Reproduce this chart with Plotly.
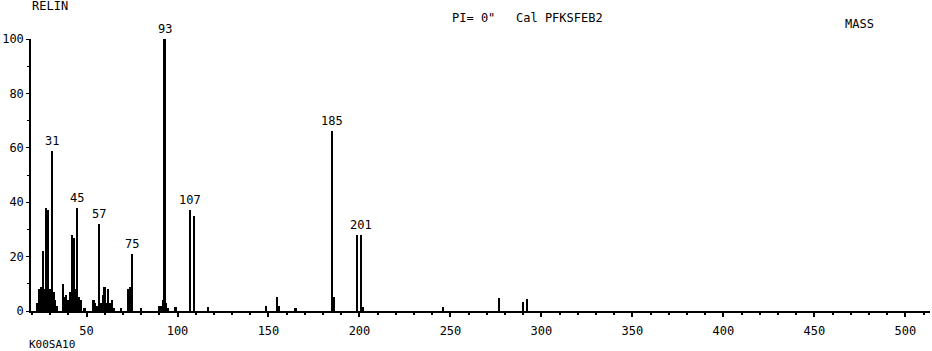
import plotly.graph_objects as go

# mass spectrum (m/z, relative intensity %)
masses = [23, 24, 25, 26, 27, 28, 29, 30, 31, 32, 33, 34, 37, 38, 39, 40, 41,
          42, 43, 44, 45, 46, 47, 49, 54, 55, 56, 57, 58, 59, 60, 61, 62, 63,
          64, 65, 69, 73, 74, 75, 80, 90, 91, 92, 93, 94, 95, 99, 107, 109,
          117, 149, 155, 156, 165, 186, 185, 199, 201, 202, 246, 277, 290, 292]
intens = [3, 8, 9, 22, 8, 38, 37, 8, 59, 7, 4, 2, 10, 5, 6, 4, 7,
          28, 27, 8, 38, 5, 4, 1, 4, 3, 2, 32, 3, 6, 9, 3, 8, 3,
          4, 1, 1, 8, 9, 21, 1, 2, 2, 4, 100, 3, 1, 1.5, 37, 35,
          1.5, 2, 5, 2, 1, 5, 66, 28, 28, 1.5, 1.5, 4.7, 3.3, 4.4]

labelled = [31, 45, 57, 75, 93, 107, 185, 201]

x_ticks = [50, 100, 150, 200, 250, 300, 350, 400, 450, 500]
y_ticks = [0, 20, 40, 60, 80, 100]

font = dict(family="DejaVu Sans Mono, Liberation Mono, monospace", size=12, color="black")

fig = go.Figure(go.Bar(
    x=masses, y=intens, width=0.9,
    marker=dict(color="black", line=dict(width=0)),
))

inten_of = dict(zip(masses, intens))
for m in labelled:
    fig.add_annotation(x=m, y=inten_of[m], text=str(m), showarrow=False,
                       yanchor="bottom", yshift=1, font=font)

# header / footer text of the printout
header = [
    (0.021, 1.12, "RELIN"),
    (0.4917, 1.077, "PI= 0\""),
    (0.588, 1.077, "Cal PFKSFEB2"),
    (0.922, 1.055, "MASS"),
]
for hx, hy, txt in header:
    fig.add_annotation(xref="paper", yref="paper", x=hx, y=hy, text=txt,
                       xanchor="center", yanchor="middle", showarrow=False, font=font)
fig.add_annotation(xref="paper", yref="paper", x=-0.004, xanchor="left", y=-0.092,
                   yanchor="top", text="K00SA10", showarrow=False,
                   font=dict(font, size=11))

fig.update_xaxes(
    range=[19.5, 513.5], tickvals=x_ticks, ticktext=[str(v) for v in x_ticks],
    showline=True, linecolor="black", linewidth=2, showgrid=False, zeroline=False,
    ticks="outside", ticklen=4, tickcolor="black", tickwidth=1.5,
    minor=dict(dtick=10, tick0=0, ticks="outside", ticklen=2, tickcolor="black"),
    ticklabelstandoff=4, tickfont=font, automargin=False,
)
fig.update_yaxes(
    range=[0, 100], tickvals=y_ticks, ticktext=[str(v) for v in y_ticks],
    showline=True, linecolor="black", linewidth=1.5, showgrid=False, zeroline=False,
    ticks="outside", ticklen=3, tickcolor="black",
    minor=dict(dtick=10, ticks="outside", ticklen=2, tickcolor="black"),
    tickfont=font, automargin=False,
)

fig.update_layout(
    width=932, height=351,
    margin=dict(l=31, r=2, t=39, b=40),
    plot_bgcolor="white", paper_bgcolor="white",
    showlegend=False, bargap=0,
)

fig.write_html("out.html", config={"displayModeBar": False},
               post_script="document.body.style.margin='0';")
